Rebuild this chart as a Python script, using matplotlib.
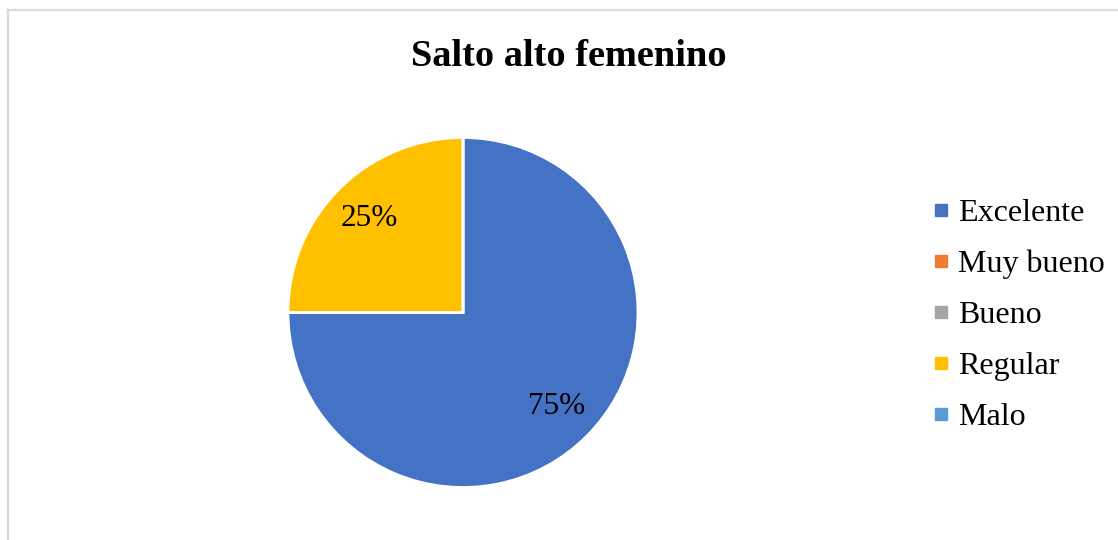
import matplotlib
matplotlib.use("Agg")
import matplotlib.pyplot as plt
from matplotlib.lines import Line2D

categories = ["Excelente", "Muy bueno", "Bueno", "Regular", "Malo"]
values = [75, 0, 0, 25, 0]
colors = ["#4472C4", "#ED7D31", "#A5A5A5", "#FFC000", "#5B9BD5"]
title = "Salto alto femenino"

plt.rcParams['font.family'] = ['Liberation Serif', 'DejaVu Serif']

W, H = 1118, 540
fig = plt.figure(figsize=(W / 100, H / 100), dpi=100)
fig.patch.set_facecolor("white")

# chart border (only top and left visible)
bx, by = 8 / W, 1 - 9.5 / H
fig.add_artist(Line2D([bx, 1.0], [by, by], color="#D9D9D9", lw=1.6, transform=fig.transFigure))
fig.add_artist(Line2D([bx, bx], [by, 0.0], color="#D9D9D9", lw=1.6, transform=fig.transFigure))

cx, cy, r = 463, 312.5, 175
ax = fig.add_axes([(cx - r) / W, (H - cy - r) / H, 2 * r / W, 2 * r / H])

def fmt(p):
    return f"{p:.0f}%" if p > 0.5 else ""

wedges, texts, autotexts = ax.pie(
    values, colors=colors, startangle=90, counterclock=False,
    autopct=fmt, pctdistance=0.76, radius=1,
    wedgeprops=dict(edgecolor="white", linewidth=2),
    textprops=dict(fontsize=22.5, color="black"))
ax.set_xlim(-1.0, 1.0)
ax.set_ylim(-1.0, 1.0)
ax.set_aspect("equal")
ax.axis("off")

fig.text(569 / W, 1 - 56 / H, title, ha="center", va="center",
         fontsize=27.6, fontweight="bold")

handles = [Line2D([], [], marker="s", linestyle="none", markersize=8,
                  markerfacecolor=c, markeredgecolor=c) for c in colors]
fig.legend(handles, categories, loc="center left",
           bbox_to_anchor=(933 / W, 1 - 315.5 / H), frameon=False,
           fontsize=23, handlelength=0.5, handletextpad=0.28,
           labelspacing=0.68, borderpad=0, borderaxespad=0)

fig.savefig("out.png", dpi=100, facecolor="white")
